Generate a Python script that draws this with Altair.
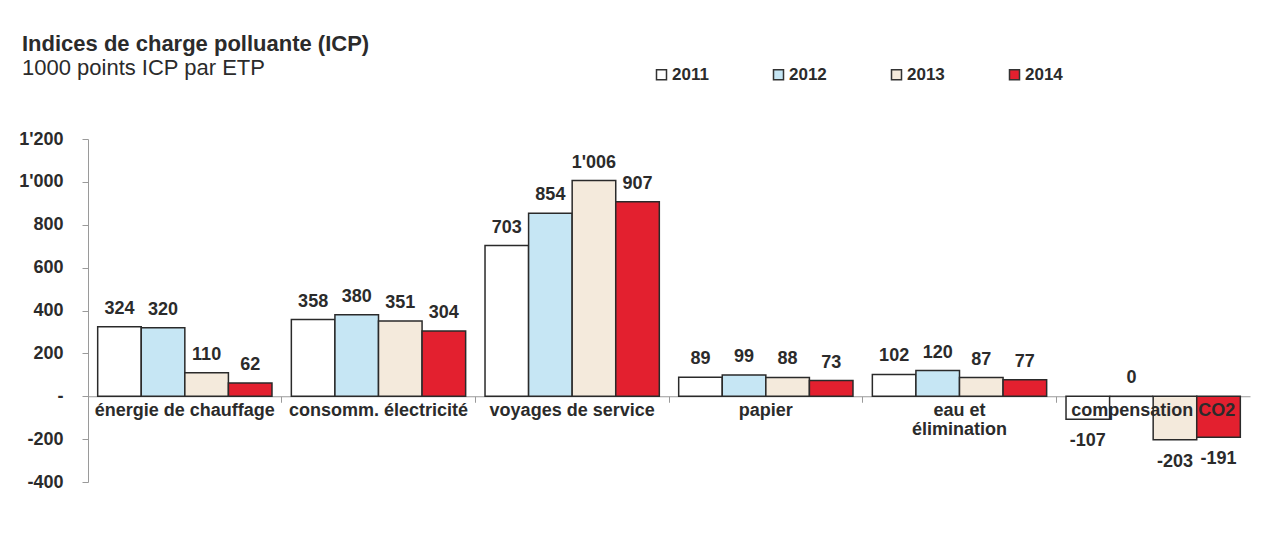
import altair as alt
import pandas as pd

categories = ["énergie de chauffage", "consomm. électricité", "voyages de service",
              "papier", "eau et\nélimination", "compensation CO2"]
years = ["2011", "2012", "2013", "2014"]
v2011 = [324, 358, 703, 89, 102, -107]
v2012 = [320, 380, 854, 99, 120, 0]
v2013 = [110, 351, 1006, 88, 87, -203]
v2014 = [62, 304, 907, 73, 77, -191]
colors = ["#ffffff", "#c6e6f4", "#f4eadc", "#e3202f"]

rows = []
for yr, vals in zip(years, [v2011, v2012, v2013, v2014]):
    for c, v in zip(categories, vals):
        rows.append({"cat": c, "year": yr, "value": v,
                     "label": f"{v:,}".replace(",", "'")})
df = pd.DataFrame(rows)
cat_df = pd.DataFrame({"cat": categories, "zero": [0] * len(categories)})

FONT = "Liberation Sans"
TXT = "#2b2b2b"
FS = 18

x = alt.X("cat:N", sort=categories,
          scale=alt.Scale(paddingInner=0.1, paddingOuter=0.05),
          axis=alt.Axis(title=None, labels=False, domain=True, domainColor="#9a9a9a",
                        ticks=True, tickColor="#9a9a9a", tickSize=6, bandPosition=-0.055,
                        offset=-85.75, grid=False))
xo = alt.XOffset("year:N", sort=years, scale=alt.Scale(paddingInner=0, paddingOuter=0))
y = alt.Y("value:Q", scale=alt.Scale(domain=[-400, 1200], nice=False),
          axis=alt.Axis(title=None, values=list(range(-400, 1201, 200)), grid=False,
                        labelExpr="datum.value == 0 ? '-' : replace(replace(format(datum.value, ','), ',', \"'\"), '\u2212', '-')",
                        labelFont=FONT, labelFontSize=FS, labelFontWeight="bold",
                        labelColor=TXT, labelPadding=19, tickSize=6,
                        domainColor="#9a9a9a", tickColor="#9a9a9a"))

bars = alt.Chart(df).mark_bar(stroke="#2a2a2a", strokeWidth=1.5).encode(
    x=x, xOffset=xo, y=y,
    fill=alt.Fill("year:N", sort=years, scale=alt.Scale(domain=years, range=colors),
                  legend=alt.Legend(title=None, orient="none", legendX=565, legendY=-73,
                                    direction="horizontal", symbolType="square",
                                    symbolSize=100, symbolStrokeColor="#333",
                                    symbolStrokeWidth=1.5, labelFont=FONT,
                                    labelFontSize=17, labelFontWeight="bold",
                                    labelColor=TXT, columnPadding=61, labelOffset=2)),
)

pos_labels = alt.Chart(df).transform_filter("datum.value >= 0").mark_text(
    baseline="alphabetic", dy=-13, font=FONT, fontSize=FS, fontWeight="bold", color=TXT
).encode(x=alt.X("cat:N", sort=categories), xOffset=alt.XOffset("year:N", sort=years),
         y="value:Q", text="label:N")

neg_labels = alt.Chart(df).transform_filter("datum.value < 0").mark_text(
    baseline="top", dy=13, font=FONT, fontSize=FS, fontWeight="bold", color=TXT
).encode(x=alt.X("cat:N", sort=categories), xOffset=alt.XOffset("year:N", sort=years),
         y="value:Q", text="label:N")

cat_labels = alt.Chart(cat_df).mark_text(
    baseline="top", dy=6, font=FONT, fontSize=FS, fontWeight="bold", color=TXT,
    lineBreak="\n", lineHeight=19
).encode(x=alt.X("cat:N", sort=categories), y="zero:Q", text="cat:N")

chart = alt.layer(bars, pos_labels, neg_labels, cat_labels).properties(
    width=1162, height=343,
    autosize=alt.AutoSizeParams(type="none"),
    padding={"left": 80, "top": 131, "right": 23, "bottom": 61},
    title=alt.TitleParams("Indices de charge polluante (ICP)",
                          subtitle="1000 points ICP par ETP",
                          anchor="start", frame="group", dx=-66,
                          font=FONT, fontSize=22, fontWeight="bold", color=TXT,
                          subtitleFont=FONT, subtitleFontSize=22, subtitleColor=TXT,
                          subtitlePadding=2, offset=0, dy=14),
).configure_view(stroke=None)

chart.save("out.html", embed_options={"renderer": "svg", "actions": False})
